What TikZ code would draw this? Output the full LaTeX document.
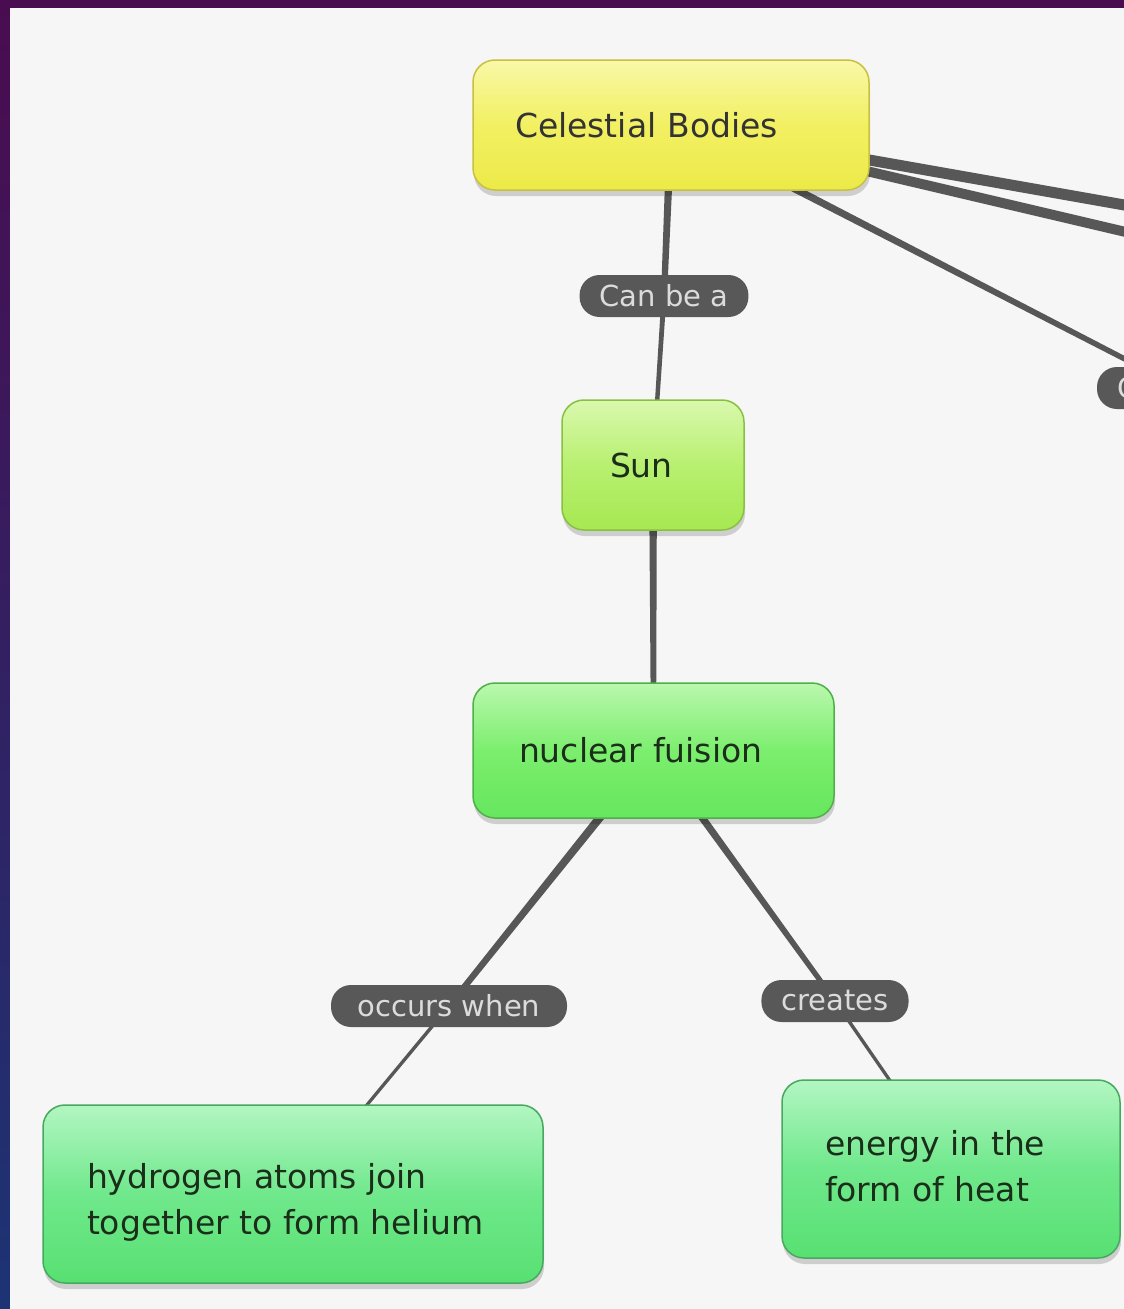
\documentclass[tikz,border=0pt]{standalone}
\usepackage{fontspec}
\setmainfont{DejaVu Sans}
\usetikzlibrary{calc,shadows}
\definecolor{frameA}{HTML}{4A0C50}
\definecolor{frameB}{HTML}{1C3474}
\definecolor{panel}{HTML}{F6F6F6}
\definecolor{linkcol}{HTML}{575757}
\definecolor{pillcol}{HTML}{585858}
\definecolor{pilltext}{HTML}{DCDCDC}
\definecolor{nodetext}{HTML}{1A2E1A}
\definecolor{yelTop}{HTML}{F8F8A8}
\definecolor{yelMid}{HTML}{F2F062}
\definecolor{yelBot}{HTML}{ECEA48}
\definecolor{yelDraw}{HTML}{C8C040}
\definecolor{limTop}{HTML}{DAF8AE}
\definecolor{limMid}{HTML}{B8F070}
\definecolor{limBot}{HTML}{A6E852}
\definecolor{limDraw}{HTML}{88C040}
\definecolor{grnTop}{HTML}{BAF8AE}
\definecolor{grnMid}{HTML}{7CEE6E}
\definecolor{grnBot}{HTML}{66E65E}
\definecolor{grnDraw}{HTML}{50B048}
\definecolor{mntTop}{HTML}{B2F6C2}
\definecolor{mntMid}{HTML}{70E88C}
\definecolor{mntBot}{HTML}{58E072}
\definecolor{mntDraw}{HTML}{48A860}
\pgfdeclarelayer{bg}
\pgfdeclarelayer{links}
\pgfsetlayers{bg,links,main}
\newcommand\taper[4]{\fill[linkcol] ($(#1.center)!#3*0.5pt!90:(#2.center)$) -- ($(#2.center)!#4*0.5pt!-90:(#1.center)$) -- ($(#2.center)!#4*0.5pt!90:(#1.center)$) -- ($(#1.center)!#3*0.5pt!-90:(#2.center)$) -- cycle;}
\tikzset{
  concept/.style={rounded corners=22pt, line width=1.5pt, align=left,
    font=\fontsize{33}{46}\selectfont, text=nodetext, inner ysep=0pt,
    drop shadow={shadow xshift=1pt, shadow yshift=-6pt, opacity=0.16, fill=black}},
  yellowbox/.style={draw=yelDraw, top color=yelTop, bottom color=yelBot, middle color=yelMid, text=black!80},
  limebox/.style={draw=limDraw, top color=limTop, bottom color=limBot, middle color=limMid},
  greenbox/.style={draw=grnDraw, top color=grnTop, bottom color=grnBot, middle color=grnMid},
  mintbox/.style={draw=mntDraw, top color=mntTop, bottom color=mntBot, middle color=mntMid},
  pillbox/.style={fill=pillcol, text=pilltext, rounded corners=20pt, minimum height=42,
    inner xsep=20pt, inner ysep=0pt, font=\fontsize{29}{29}\selectfont}
}
\begin{document}
\begin{tikzpicture}[x=1pt,y=-1pt]
\useasboundingbox (0,0) rectangle (1124,1309);
\begin{pgfonlayer}{bg}
  \clip (0,0) rectangle (1124,1309);
  \fill[frameA] (0,0) rectangle (1124,8);
  \shade[top color=frameA, bottom color=frameB] (0,0) rectangle (10,1309);
  \fill[panel] (10,8) rectangle (1124,1309);
\end{pgfonlayer}

% concepts
\node[concept, yellowbox, minimum width=396, minimum height=130, text width=312pt, inner xsep=42pt] (cb) at (671,125) {Celestial Bodies};
\node[concept, limebox, minimum width=182, minimum height=130, text width=86pt, inner xsep=48pt] (sun) at (653,465) {Sun};
\node[concept, greenbox, minimum width=361, minimum height=135, text width=269pt, inner xsep=46pt] (nf) at (653.5,750.5) {nuclear fuision};
\node[concept, mintbox, minimum width=500, minimum height=178, inner xsep=44pt] (hy) at (293,1194) {\raisebox{-8pt}[\height][\depth]{\parbox{412pt}{hydrogen atoms join\\together to form helium}}};
\node[concept, mintbox, minimum width=338, minimum height=178, inner xsep=43pt] (en) at (951,1169) {\raisebox{3pt}[\height][\depth]{\parbox{252pt}{energy in the\\form of heat}}};

% linking phrases
\node[pillbox] (l1) at (664,296) {Can be a};
\node[pillbox, minimum width=236] (l2) at (449,1006) {occurs when};
\node[pillbox] (l3) at (835,1001) {creates};
\node[pillbox, minimum width=168, text width=128pt, align=left] (l4) at (1181,388) {C};

\coordinate (r1) at (1300,236);
\coordinate (r2) at (1300,273);

\begin{pgfonlayer}{links}
  \clip (10,8) rectangle (1124,1309);
  \taper{cb}{r1}{11}{11}
  \taper{cb}{r2}{10}{10}
  \taper{cb}{l4}{8}{5}
  \taper{cb}{l1}{8}{6}
  \taper{l1}{sun}{5}{4}
  \taper{sun}{nf}{8}{5}
  \taper{nf}{l2}{9}{6}
  \taper{l2}{hy}{3.5}{3}
  \taper{nf}{l3}{8}{5}
  \taper{l3}{en}{3.5}{3}
\end{pgfonlayer}
\end{tikzpicture}
\end{document}
